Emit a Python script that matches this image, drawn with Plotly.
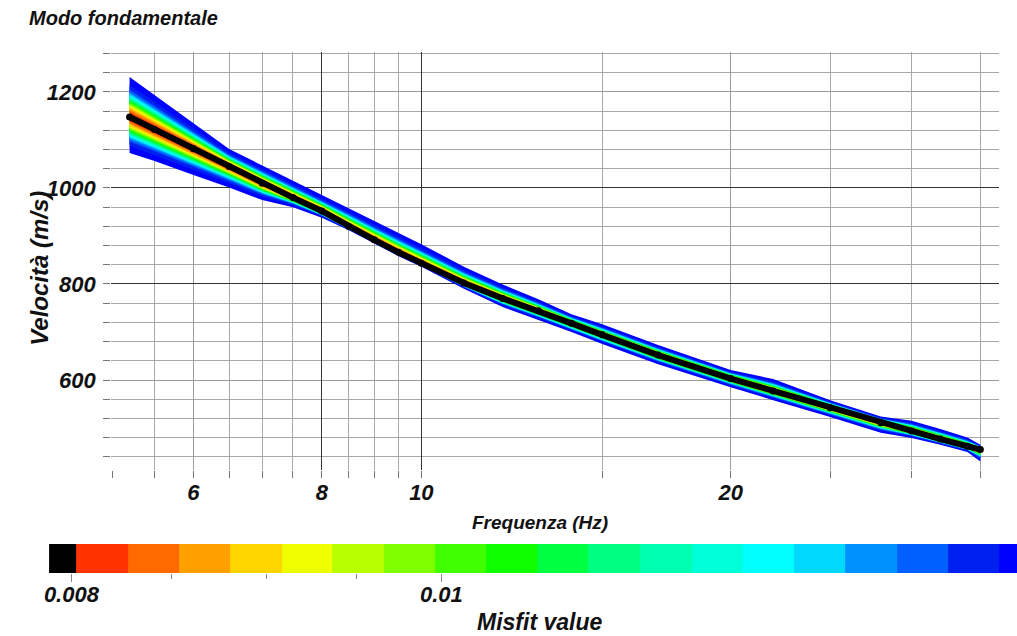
import numpy as np
import plotly.graph_objects as go

# ---------------- data ----------------
freq = [5.2, 5.5, 6.0, 6.5, 7.0, 7.5, 8.0, 8.5, 9.0, 9.5, 10, 11, 12, 13, 14, 15,
        17, 20, 22, 25, 28, 30, 32, 34, 35]
v_best = [1148, 1122, 1082, 1045, 1010, 980, 952, 920, 892, 866, 843, 802, 770, 744,
          718, 694, 652, 603, 577, 542, 511, 494, 477, 462, 455]
v_upper = [1231, 1193, 1135, 1081, 1047, 1015, 985, 958, 931, 906, 883, 836, 799, 768,
           737, 716, 673, 621, 602, 558, 524, 515, 498, 480, 465]
v_lower = [1073, 1056, 1027, 1001, 975, 960, 938, 912, 884, 858, 836, 790, 752, 725,
           700, 675, 633, 585, 558, 523, 490, 479, 465, 450, 430]

# misfit colour classes (colour bar)
misfit_edges = [0.007893, 0.008024, 0.008276, 0.008536, 0.008804, 0.009082, 0.009363,
                0.009658, 0.009961, 0.010275, 0.010593, 0.010928, 0.011273, 0.011629,
                0.011990, 0.012368, 0.012759, 0.013162, 0.013570, 0.013999, 0.014441]
misfit_colors = ["#000000", "#FF3300", "#FF6A00", "#FFA000", "#FFD500", "#F0FF00",
                 "#B8FF00", "#80FF00", "#40FF00", "#10FF00", "#00FF40", "#00FF80",
                 "#00FFB0", "#00FFD8", "#00FFFF", "#00D8FF", "#0090FF", "#0060FF",
                 "#0020F0", "#0000FF"]
# relative spread of each misfit class inside the envelope (class 1..19)
band_frac = [0.12, 0.17, 0.21, 0.25, 0.28, 0.31, 0.34, 0.37, 0.40, 0.43, 0.46, 0.49,
             0.52, 0.55, 0.58, 0.62, 0.68, 0.80, 1.00]

x_major = [6, 8, 10, 20]
x_minor = [5, 5.5, 6.5, 7, 7.5, 8.5, 9, 9.5, 15, 25, 30, 35]
dark_freqs = [8, 10]
dark_vels = [800, 1000]
cb_ticks = [0.008, 0.01]
cb_minor = [0.0085, 0.009, 0.0095]

FONT = "Liberation Sans"
W, H = 1017, 636
DX = -4  # horizontal nudge in pixels
XR = [np.log10(4.99), np.log10(36.5)]
YR = [412.5, 1283.3]

fig = go.Figure()

fb = np.array(v_best, float)
fu = np.array(v_upper, float)
fl = np.array(v_lower, float)
for k in range(len(band_frac), 0, -1):
    fr = band_frac[k - 1]
    up = fb + fr * (fu - fb)
    lo = fb - fr * (fb - fl)
    fig.add_trace(go.Scatter(
        x=list(freq) + list(freq[::-1]),
        y=list(up) + list(lo[::-1]),
        mode="lines", fill="toself", fillcolor=misfit_colors[k],
        line=dict(width=0, color=misfit_colors[k]), hoverinfo="skip",
        xaxis="x", yaxis="y"))

fig.add_trace(go.Scatter(x=freq, y=v_best, mode="lines+markers",
                         line=dict(color="#000000", width=6),
                         marker=dict(color="#000000", size=7),
                         xaxis="x", yaxis="y"))

# empty helper trace so the overlay axes (darker grid lines) get drawn
fig.add_trace(go.Scatter(x=[], y=[], xaxis="x3", yaxis="y3", hoverinfo="skip"))

# colour bar as heatmap on a log axis
n = len(misfit_colors)
cscale = []
for i, c in enumerate(misfit_colors):
    cscale.append([i / n, c])
    cscale.append([(i + 1) / n, c])
fig.add_trace(go.Heatmap(x=misfit_edges, y=[0], z=[list(range(n))],
                         colorscale=cscale, zmin=-0.5, zmax=n - 0.5,
                         showscale=False, hoverinfo="skip",
                         xaxis="x2", yaxis="y2"))

tickfont = dict(family=FONT, size=22, color="#111111", weight="bold", style="italic")
XD = [(110.7 + DX) / W, (1003 + DX) / W]
YD = [(H - 470) / H, (H - 52) / H]

fig.update_layout(
    width=W, height=H, margin=dict(l=0, r=0, t=0, b=0),
    paper_bgcolor="white", plot_bgcolor="white", showlegend=False,
    xaxis=dict(type="log", range=XR, domain=XD, anchor="y",
               tickmode="array", tickvals=x_major, ticktext=[str(v) for v in x_major],
               ticks="outside", ticklen=7, tickcolor="#777777",
               showgrid=True, gridcolor="#9c9c9c", gridwidth=1,
               showline=False, zeroline=False, tickfont=tickfont,
               ticklabelstandoff=-4,
               minor=dict(tickmode="array", tickvals=x_minor, ticks="outside",
                          ticklen=7, tickcolor="#777777", showgrid=True,
                          gridcolor="#a8a8a8", gridwidth=1)),
    yaxis=dict(range=YR, domain=YD, anchor="x", tickmode="linear", tick0=0, dtick=200,
               ticks="outside", ticklen=7, tickcolor="#777777",
               showgrid=True, gridcolor="#9c9c9c", gridwidth=1,
               showline=False, zeroline=False, tickfont=tickfont,
               ticklabelstandoff=3,
               minor=dict(dtick=40, ticks="outside", ticklen=7, tickcolor="#777777",
                          showgrid=True, gridcolor="#a8a8a8", gridwidth=1)),
    xaxis3=dict(type="log", range=XR, domain=XD, anchor="y3", overlaying="x",
                tickmode="array", tickvals=dark_freqs, ticks="", showticklabels=False,
                showgrid=True, gridcolor="#333333", gridwidth=1,
                showline=False, zeroline=False),
    yaxis3=dict(range=YR, domain=YD, anchor="x3", overlaying="y",
                tickmode="array", tickvals=dark_vels, ticks="", showticklabels=False,
                showgrid=True, gridcolor="#333333", gridwidth=1,
                showline=False, zeroline=False),
    xaxis2=dict(type="log", range=[np.log10(0.007893), np.log10(0.01415)],
                domain=[(48.3 + DX) / W, 1.0], anchor="y2",
                tickmode="array", tickvals=cb_ticks, ticktext=["0.008", "0.01"],
                ticks="outside", ticklen=8, tickcolor="#888888",
                showgrid=False, showline=False, zeroline=False, tickfont=tickfont,
                ticklabelstandoff=-6,
                minor=dict(tickmode="array", tickvals=cb_minor, ticks="outside",
                           ticklen=5, tickcolor="#888888", showgrid=False)),
    yaxis2=dict(range=[-0.5, 0.5], domain=[(H - 573) / H, (H - 544) / H],
                anchor="x2", visible=False),
)

def label(text, px, py, size, angle=0, xanchor="center"):
    fig.add_annotation(text=text, x=(px + DX) / W, y=1 - py / H, xref="paper", yref="paper",
                       showarrow=False, textangle=angle, xanchor=xanchor, yanchor="middle",
                       font=dict(family=FONT, size=size, color="#111111",
                                 weight="bold", style="italic"))

label("Modo fondamentale", 26, 18, 20, xanchor="left")
label("Velocità (m/s)", 38, 268, 24, angle=-90)
label("Frequenza (Hz)", 542, 522, 19)
label("Misfit value", 541, 622, 23)

fig.write_html("out.html",
               config={"displayModeBar": False},
               post_script="document.body.style.margin='0px';"
                           "document.body.style.overflow='hidden';")
